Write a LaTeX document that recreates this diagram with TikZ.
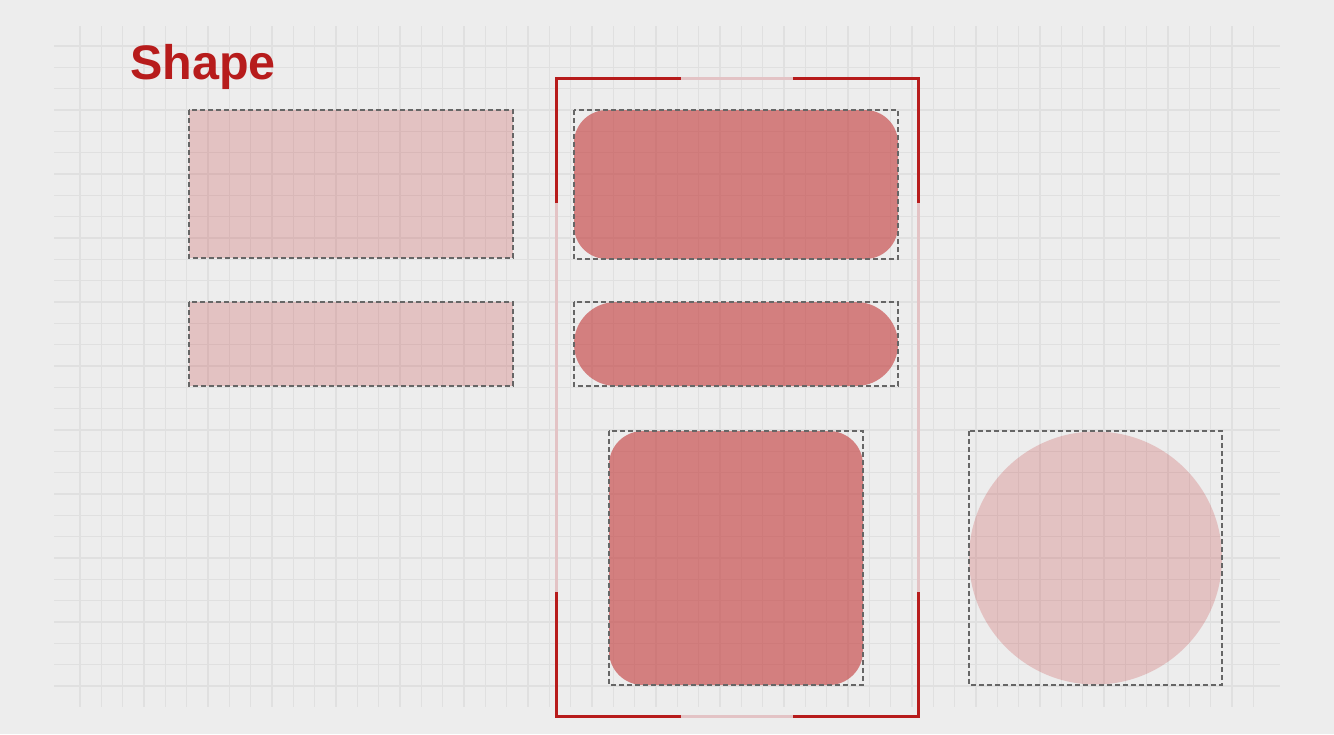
\documentclass[tikz,border=0pt]{standalone}
\usepackage{fontspec}
\setmainfont{Liberation Sans}
\definecolor{bgcol}{HTML}{EDEDED}
\definecolor{gridcol}{HTML}{E0E0E0}
\definecolor{shapered}{HTML}{C33637}
\definecolor{titlered}{HTML}{B71C1C}
\definecolor{framepink}{HTML}{E3C3C5}
\definecolor{dashcol}{HTML}{666666}

\begin{document}
\begin{tikzpicture}
  [x=0.02cm,y=-0.02cm,
   gridline/.style={gridcol,line width=0.025cm},
   bound/.style={dashcol,dash pattern=on 0.1cm off 0.06cm,line width=0.025cm},
   solidfill/.style={fill=shapered,fill opacity=0.6},
   softfill/.style={fill=shapered,fill opacity=0.23},
   frameon/.style={titlered,line width=0.06cm},
   frameoff/.style={framepink,line width=0.06cm}]
  \fill[bgcol] (0,0) rectangle (1334,734);
  \useasboundingbox (0,0) rectangle (1334,734);
  \foreach \i in {0,...,55}
    \draw[gridline] (80+21.333*\i,26) -- (80+21.333*\i,707);
  \foreach \j in {0,...,30}
    \draw[gridline] (54,46+21.333*\j) -- (1280,46+21.333*\j);
  \node[anchor=base west,inner sep=0,text=titlered,font=\fontsize{27.6}{32}\selectfont\bfseries] (title) at (130,79) {Shape};
  \fill[softfill] (189,110) rectangle (513,258);
  \fill[softfill] (189,302) rectangle (513,386);
  \fill[solidfill,rounded corners=0.66cm] (574,110) rectangle (898,259);
  \fill[solidfill,rounded corners=0.84cm] (574,302) rectangle (898,386);
  \fill[solidfill,rounded corners=0.68cm] (609,431) rectangle (863,685);
  \fill[softfill] (1095.5,558) circle[radius=126.5];
  \draw[bound] (189,110) rectangle (513,258);
  \draw[bound] (189,302) rectangle (513,386);
  \draw[bound] (574,110) rectangle (898,259);
  \draw[bound] (574,302) rectangle (898,386);
  \draw[bound] (609,431) rectangle (863,685);
  \draw[bound] (969,431) rectangle (1222,685);
  \draw[frameoff] (556,78) rectangle (918,716);
  \draw[frameon] (556,203) -- (556,78) -- (681,78);
  \draw[frameon] (793,78) -- (918,78) -- (918,203);
  \draw[frameon] (918,592) -- (918,716) -- (793,716);
  \draw[frameon] (681,716) -- (556,716) -- (556,592);
\end{tikzpicture}
\end{document}
